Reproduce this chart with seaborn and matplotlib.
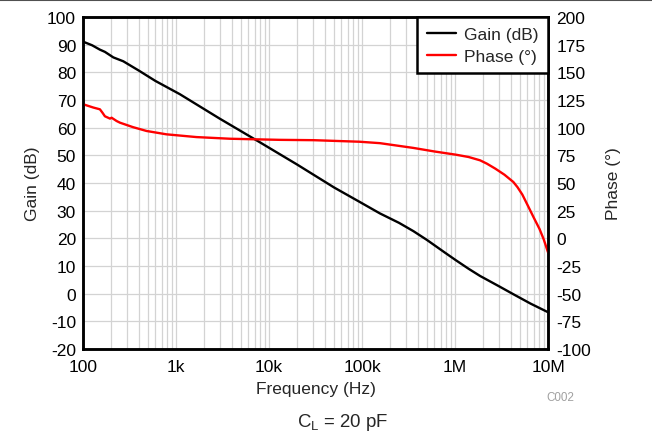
import numpy as np
import pandas as pd
import matplotlib
matplotlib.use("Agg")
import matplotlib.pyplot as plt
import seaborn as sns
from matplotlib.ticker import FixedLocator, LogLocator, NullFormatter

# ---- data ----
gain_freq = [100, 125, 152, 172, 212, 271, 400, 600, 1.1e3, 2.94e3, 7.9e3, 2e4, 5e4, 9.4e4,
             1.56e5, 2.5e5, 3.57e5, 5e5, 7.74e5, 1.02e6, 1.4e6, 1.86e6, 3e6, 4.24e6, 6.5e6,
             1e7]
gain_db = [91.1, 89.8, 88.2, 87.4, 85.4, 84.0, 80.6, 76.9, 72.1, 63.3, 54.8, 46.7, 38.4, 33.2,
           29.0, 25.6, 22.6, 19.4, 14.9, 12.1, 9.0, 6.4, 2.6, -0.2, -3.6, -6.7]

phase_freq = [100, 129, 152, 162, 172, 195, 203, 230, 250, 344, 483, 788, 1.66e3, 3.8e3,
              1.3e4, 3e4, 9.4e4, 1.56e5, 3.57e5, 6e5, 1.02e6, 1.4e6, 1.86e6, 2.2e6, 2.71e6,
              3.4e6, 4.24e6, 4.7e6, 5.3e6, 6.2e6, 7e6, 8.1e6, 9e6, 1e7]
phase_deg = [121.2, 118.2, 116.6, 113.5, 110.3, 108.2, 109.0, 106.0, 104.5, 100.5, 97.0,
             94.0, 91.5, 90.0, 89.0, 88.7, 87.3, 86.0, 81.7, 78.5, 75.6, 73.5, 70.5, 67.5,
             63.0, 57.5, 50.9, 46.2, 39.5, 28.0, 19.0, 8.5, -1.0, -12.6]

x_ticks = [1e2, 1e3, 1e4, 1e5, 1e6, 1e7]
x_labels = ["100", "1k", "10k", "100k", "1M", "10M"]
gain_ticks = list(range(-20, 101, 10))
phase_ticks = list(range(-100, 201, 25))

gain_df = pd.DataFrame({"freq": gain_freq, "val": gain_db})
phase_df = pd.DataFrame({"freq": phase_freq, "val": phase_deg})

sns.set_theme(style="white")
plt.rcParams["font.family"] = ["Liberation Sans", "DejaVu Sans"]
plt.rcParams["axes.unicode_minus"] = False
plt.rcParams["mathtext.fontset"] = "custom"
plt.rcParams["mathtext.rm"] = "Liberation Sans"
plt.rcParams["mathtext.it"] = "Liberation Sans"

FS = 12.5

fig = plt.figure(figsize=(6.52, 4.35), dpi=100)
ax = fig.add_axes([0.1273, 0.1954, 0.7132, 0.7632])
ax2 = ax.twinx()

sns.lineplot(data=gain_df, x="freq", y="val", ax=ax, color="black", linewidth=1.7,
             label="Gain (dB)", legend=False)
sns.lineplot(data=phase_df, x="freq", y="val", ax=ax2, color="#ff0000", linewidth=1.7,
             label="Phase (°)", legend=False)

ax.set_xscale("log")
ax.set_xlim(1e2, 1e7)
ax.set_ylim(-20, 100)
ax2.set_ylim(-100, 200)
ax.xaxis.set_major_locator(FixedLocator(x_ticks))
ax.set_xticklabels(x_labels)
ax.xaxis.set_minor_locator(LogLocator(base=10, subs=np.arange(2, 10)))
ax.xaxis.set_minor_formatter(NullFormatter())
ax.set_yticks(gain_ticks)
ax2.set_yticks(phase_ticks)

ax.grid(True, which="major", axis="both", color="#d3d3d3", linewidth=0.9)
ax.grid(True, which="minor", axis="x", color="#d3d3d3", linewidth=0.9)
ax.set_axisbelow(True)

for a in (ax, ax2):
    a.tick_params(axis="both", which="both", length=0, labelsize=FS, colors="black")
    for s in a.spines.values():
        s.set_color("black")
        s.set_linewidth(1.8)
ax.tick_params(axis="x", pad=7)
ax.tick_params(axis="y", pad=5)
ax2.tick_params(axis="y", pad=6)

ax.set_xlabel("Frequency (Hz)", fontsize=FS, labelpad=5)
ax.set_ylabel("Gain (dB)", fontsize=FS, labelpad=5)
ax2.set_ylabel("Phase (°)", fontsize=FS, labelpad=11)

h1, l1 = ax.get_legend_handles_labels()
h2, l2 = ax2.get_legend_handles_labels()
leg = ax2.legend(h1 + h2, l1 + l2, loc="upper right", fontsize=FS, frameon=True,
                 fancybox=False, borderaxespad=0.0, handlelength=1.7, handletextpad=0.45,
                 borderpad=0.55, labelspacing=0.4)
leg.get_frame().set_edgecolor("black")
leg.get_frame().set_linewidth(1.8)
leg.get_frame().set_alpha(1.0)

fig.text(0.859, 0.086, "C002", fontsize=8.4, color="#a0a0a0", ha="center", va="center")
fig.text(0.526, 0.028, r"C$_\mathregular{L}$ = 20 pF", fontsize=13.4, ha="center",
         va="center")
fig.add_artist(plt.Line2D([0, 1], [0.997, 0.997], color="#505050", linewidth=1.5,
                          transform=fig.transFigure))

fig.savefig("out.png", dpi=100)
